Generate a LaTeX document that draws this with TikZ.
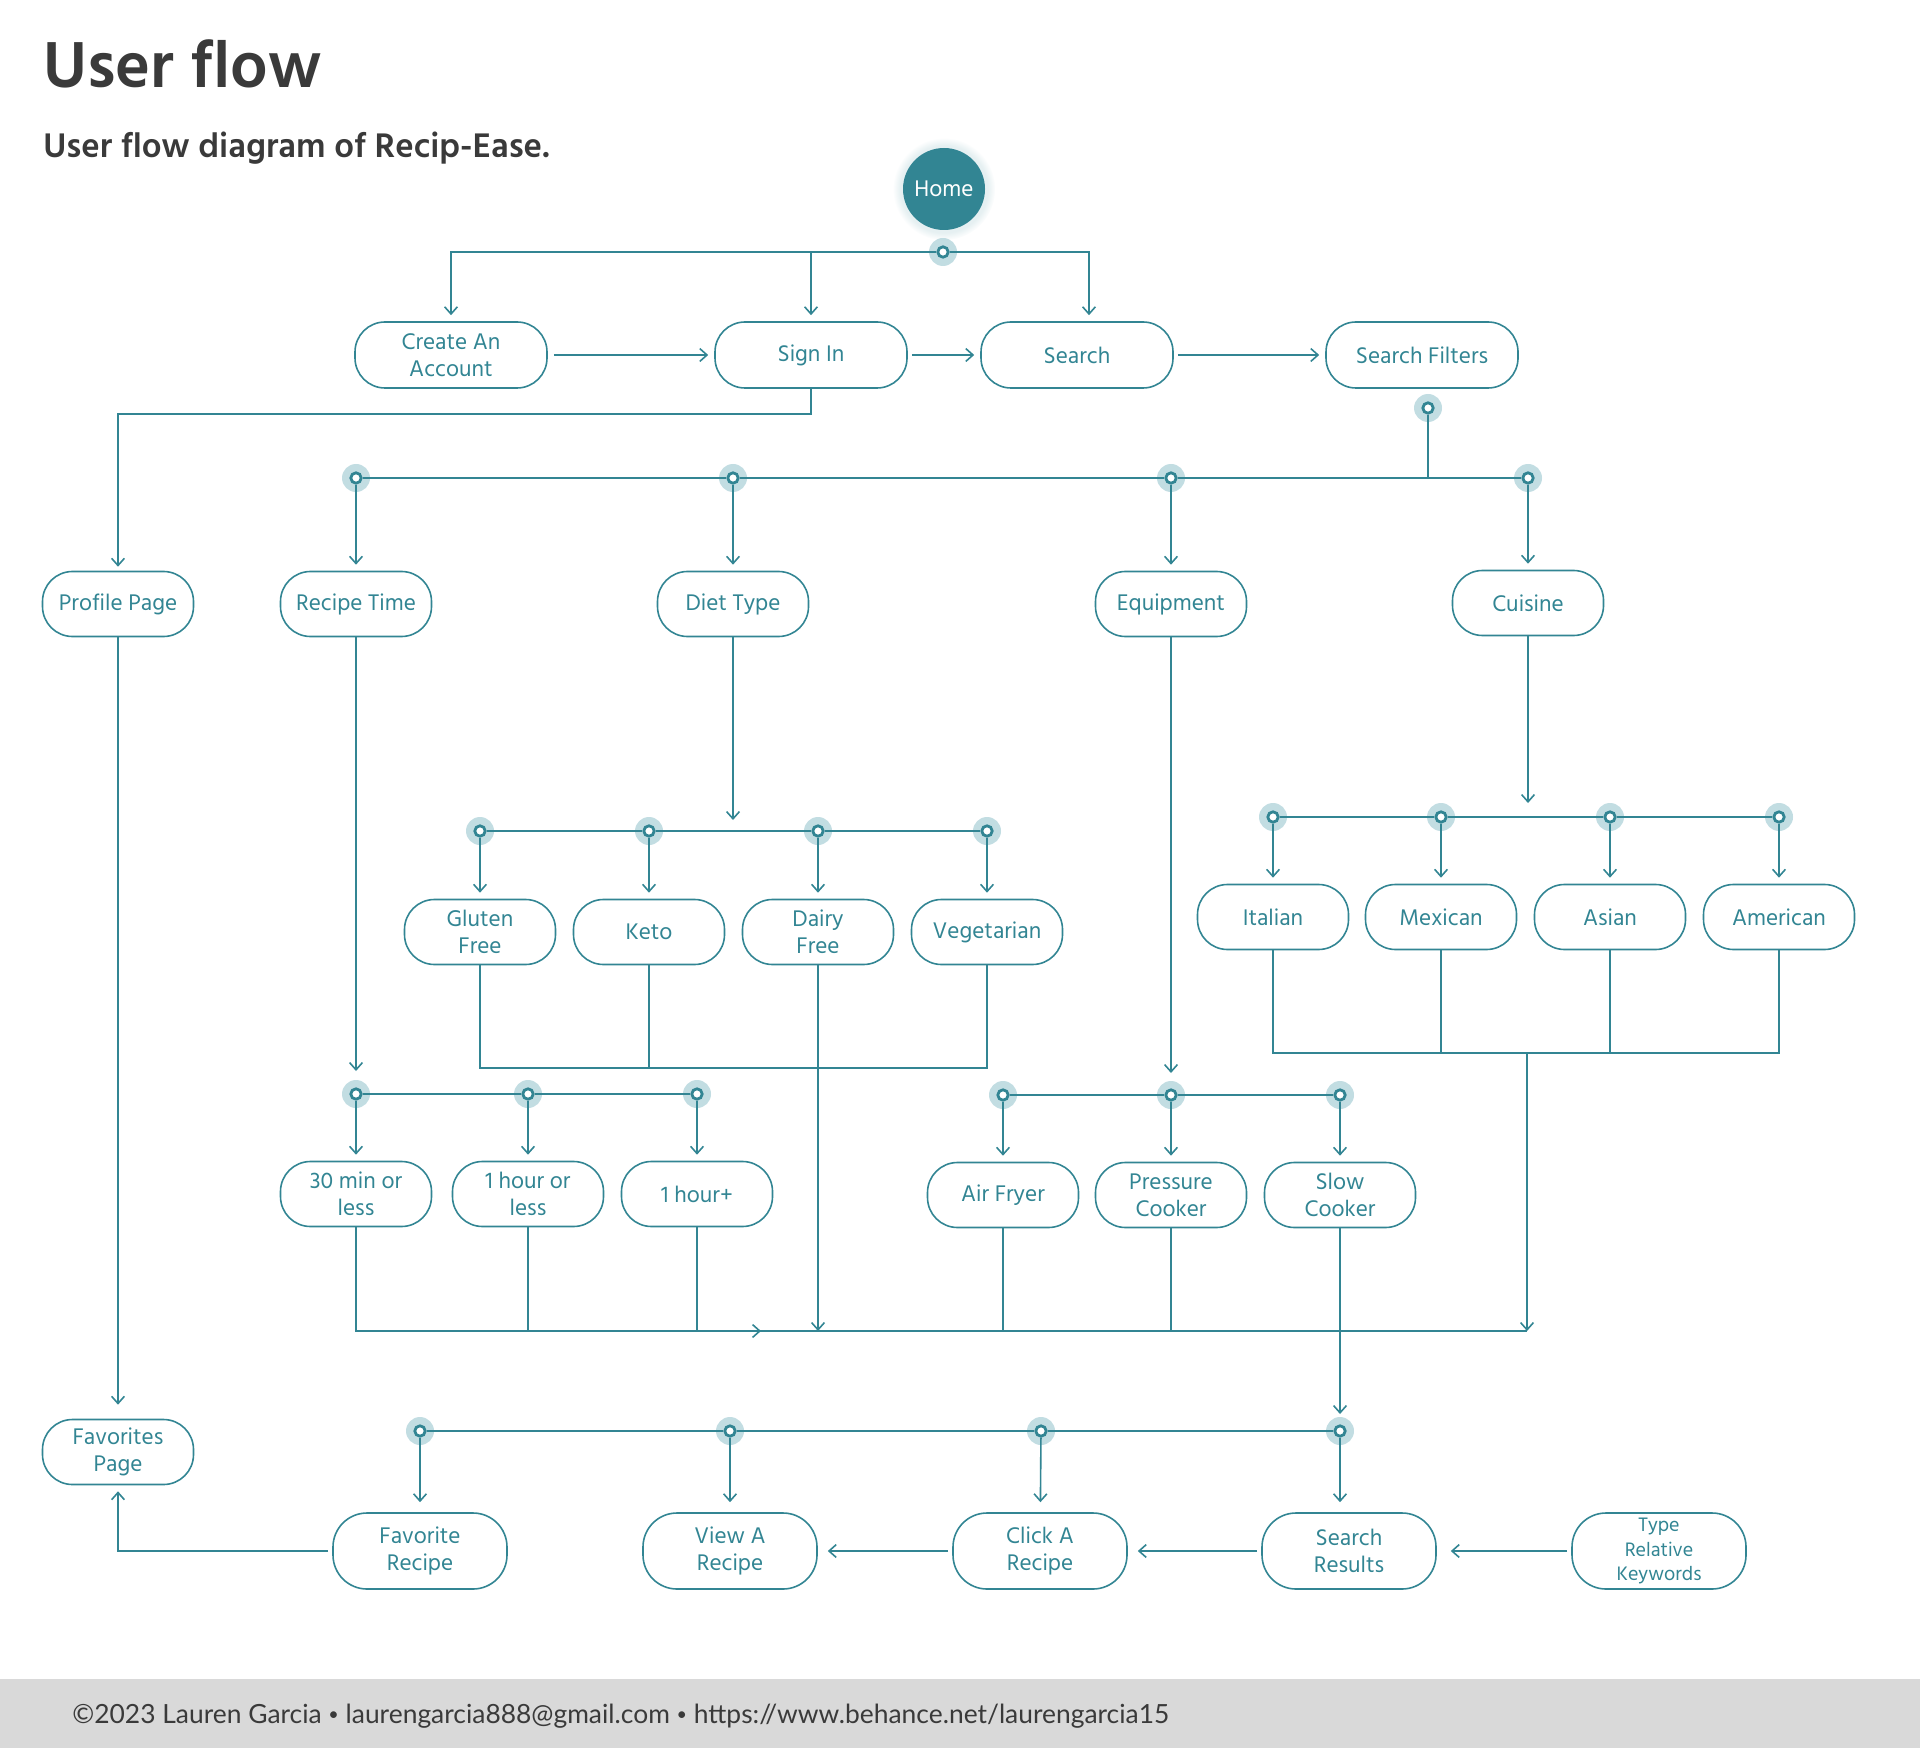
\documentclass[tikz,border=0pt]{standalone}
\usepackage{fontspec}
\setmainfont{Hind Madurai}
\newfontfamily\footfont{Lato}
\usetikzlibrary{
  arrows.meta, % for Straight Barb arrow tip
  backgrounds, % to put the halos behind the lines
  shadows, % for the glow round the home node
}
\definecolor{flowteal}{RGB}{50,133,147}
\definecolor{flowhalo}{RGB}{194,221,226}
\definecolor{inkgray}{RGB}{58,58,58}
\definecolor{footgray}{RGB}{217,217,217}
\newcommand{\footdot}{{\fontsize{9}{9}\selectfont\raisebox{0.12em}{•}}}
\tikzset{
  flowbox/.style={ % style for each screen of the flow
    rectangle,draw=flowteal,line width=0.8pt, % thin teal outline
    rounded corners=15pt, % pill shaped ends
    text=flowteal,align=center,
    font=\fontsize{11.6}{13.6}\selectfont,
    minimum width=75.5pt,minimum height=32.5pt,
    inner sep=1pt,
  },
  widebox/.style={ % the first row is a bit wider
    flowbox,minimum width=96pt,minimum height=33pt,
  },
  tallbox/.style={ % the last row is a bit taller
    flowbox,minimum width=87pt,minimum height=38pt,rounded corners=17pt,
  },
  hub/.style={ % small ring where a line splits
    circle,draw=flowteal,fill=white,line width=1.4pt,
    inner sep=0pt,minimum size=5.2pt,
  },
  wire/.style={ % plain connecting line
    draw=flowteal,line width=0.8pt,
  },
  conn/.style={ % style for the connections
    wire,-{Straight Barb[length=3.6pt,width=6.4pt]},
    shorten >=3pt,
  },
}

\begin{document}
\begin{tikzpicture}[x=0.5pt,y=-0.5pt]
	\useasboundingbox (0,0) rectangle (1920,1748);
	
	% headings
	\node[anchor=base west,inner sep=0pt,text=inkgray,font=\fontsize{33.3}{36}\selectfont\bfseries] (title) at (43,88) {User flow};
	\node[anchor=base west,inner sep=0pt,text=inkgray,font=\fontsize{17.5}{19}\selectfont\bfseries] (subtitle) at (43,158) {User flow diagram of Recip-Ease.};
	
	% footer
	\fill[footgray] (0,1679) rectangle (1920,1748);
	\node[anchor=base west,inner sep=0pt,text=inkgray,font=\footfont\fontsize{13.2}{14}\selectfont] (credit) at (72,1723) {©2023 Lauren Garcia \footdot{} laurengarcia888@gmail.com \footdot{} https://www.behance.net/laurengarcia15};
	
	% start
	\node[circle,fill=flowteal,minimum size=41pt,inner sep=0pt,text=white,font=\fontsize{11.6}{12}\selectfont,
	      circular glow={fill=flowteal!35,opacity=0.35}] (home) at (944,189) {Home};
	
	% first row
	\node[widebox] (create) at (451,355) {Create An\\Account};
	\node[widebox] (signin) at (811,355) {Sign In};
	\node[widebox] (search) at (1077,355) {Search};
	\node[widebox] (filters) at (1422,355) {Search Filters};
	
	% filter row
	\node[flowbox] (profile) at (118,604) {Profile Page};
	\node[flowbox] (rtime) at (356,604) {Recipe Time};
	\node[flowbox] (diet) at (733,604) {Diet Type};
	\node[flowbox] (equip) at (1171,604) {Equipment};
	\node[flowbox] (cuisine) at (1528,603) {Cuisine};
	
	% diet options
	\node[flowbox] (gluten) at (480,932) {Gluten\\Free};
	\node[flowbox] (keto) at (649,932) {Keto};
	\node[flowbox] (dairy) at (818,932) {Dairy\\Free};
	\node[flowbox] (veg) at (987,932) {Vegetarian};
	
	% cuisine options
	\node[flowbox] (italian) at (1273,917) {Italian};
	\node[flowbox] (mexican) at (1441,917) {Mexican};
	\node[flowbox] (asian) at (1610,917) {Asian};
	\node[flowbox] (american) at (1779,917) {American};
	
	% time and equipment options
	\node[flowbox] (t30) at (356,1194) {30 min or\\less};
	\node[flowbox] (t60) at (528,1194) {1 hour or\\less};
	\node[flowbox] (t61) at (697,1194) {1 hour+};
	\node[flowbox] (airfryer) at (1003,1195) {Air Fryer};
	\node[flowbox] (pressure) at (1171,1195) {Pressure\\Cooker};
	\node[flowbox] (slow) at (1340,1195) {Slow\\Cooker};
	
	% last row
	\node[flowbox] (favpage) at (118,1452) {Favorites\\Page};
	\node[tallbox] (favrecipe) at (420,1551) {Favorite\\Recipe};
	\node[tallbox] (viewrecipe) at (730,1551) {View A\\Recipe};
	\node[tallbox] (clickrecipe) at (1040,1551) {Click A\\Recipe};
	\node[tallbox] (results) at (1349,1551) {Search\\Results};
	\node[tallbox,font=\fontsize{10}{12.3}\selectfont] (keywords) at (1659,1551) {Type\\Relative\\Keywords};
	
	% split points
	\node[hub] (hj) at (943,252) {};
	\node[hub] (sfj) at (1428,408) {};
	\node[hub] (rtj) at (356,478) {};
	\node[hub] (dtj) at (733,478) {};
	\node[hub] (eqj) at (1171,478) {};
	\node[hub] (cuj) at (1528,478) {};
	\node[hub] (gfj) at (480,831) {};
	\node[hub] (ktj) at (649,831) {};
	\node[hub] (dfj) at (818,831) {};
	\node[hub] (vgj) at (987,831) {};
	\node[hub] (itj) at (1273,817) {};
	\node[hub] (mxj) at (1441,817) {};
	\node[hub] (asj) at (1610,817) {};
	\node[hub] (amj) at (1779,817) {};
	\node[hub] (t30j) at (356,1094) {};
	\node[hub] (t60j) at (528,1094) {};
	\node[hub] (t61j) at (697,1094) {};
	\node[hub] (afj) at (1003,1095) {};
	\node[hub] (pcj) at (1171,1095) {};
	\node[hub] (scj) at (1340,1095) {};
	\node[hub] (frj) at (420,1431) {};
	\node[hub] (vaj) at (730,1431) {};
	\node[hub] (caj) at (1041,1431) {};
	\node[hub] (srj) at (1340,1431) {};
	
	% free ends
	\coordinate (dietin) at (733,820);
	\coordinate (cuisin) at (1528,803);
	\coordinate (rtin) at (356,1071);
	\coordinate (eqin) at (1171,1073);
	\coordinate (dietjoin) at (987,1068);
	\coordinate (cujoin) at (1779,1053);
	\coordinate (cudrop) at (1527,1053);
	\coordinate (colL) at (356,1331);
	\coordinate (colmid) at (761,1331);
	\coordinate (colR) at (1527,1331);
	\coordinate (slowin) at (1340,1414);
	
	\begin{scope}[on background layer]
		\foreach \j in {hj,sfj,rtj,dtj,eqj,cuj,gfj,ktj,dfj,vgj,itj,mxj,asj,amj,t30j,t60j,t61j,afj,pcj,scj,frj,vaj,caj,srj}
			\fill[flowhalo] (\j) circle (7pt);
	\end{scope}
	
	% home splits
	\draw[conn] (hj) -| (create);
	\draw[conn] (hj) -| (signin);
	\draw[conn] (hj) -| ([xshift=6pt]search.north);
	\draw[conn,shorten <=3pt] (create) -- (signin);
	\draw[conn,shorten <=2pt] (signin) -- (search);
	\draw[conn,shorten <=2pt] (search) -- (filters);
	\draw[conn,shorten >=2pt] (signin.south) -- ++(0,25) -| (profile);
	
	% filters
	\draw[wire] (sfj) -- (sfj |- cuj);
	\draw[wire] (rtj) -- (dtj) -- (eqj) -- (cuj);
	\foreach \j/\n in {rtj/rtime,dtj/diet,eqj/equip,cuj/cuisine}
		\draw[conn] (\j) -- (\n);
	
	% diet
	\draw[conn,shorten >=0pt] (diet) -- (dietin);
	\draw[wire] (gfj) -- (ktj) -- (dfj) -- (vgj);
	\foreach \j/\n in {gfj/gluten,ktj/keto,dfj/dairy,vgj/veg}
		\draw[conn] (\j) -- (\n);
	\draw[wire] (gluten) |- (dietjoin) -- (veg);
	\draw[wire] (keto) -- (keto |- dietjoin);
	\draw[conn,shorten >=0pt] (dairy) -- (dairy |- colL);
	
	% cuisine
	\draw[conn,shorten >=0pt] (cuisine) -- (cuisin);
	\draw[wire] (itj) -- (mxj) -- (asj) -- (amj);
	\foreach \j/\n in {itj/italian,mxj/mexican,asj/asian,amj/american}
		\draw[conn] (\j) -- (\n);
	\draw[wire] (italian) |- (cujoin) -- (american);
	\draw[wire] (mexican) -- (mexican |- cujoin);
	\draw[wire] (asian) -- (asian |- cujoin);
	\draw[conn,shorten >=0pt] (cudrop) -- (colR);
	
	% recipe time
	\draw[conn,shorten >=0pt] (rtime) -- (rtin);
	\draw[wire] (t30j) -- (t60j) -- (t61j);
	\foreach \j/\n in {t30j/t30,t60j/t60,t61j/t61}
		\draw[conn] (\j) -- (\n);
	
	% equipment
	\draw[conn,shorten >=0pt] (equip) -- (eqin);
	\draw[wire] (afj) -- (pcj) -- (scj);
	\foreach \j/\n in {afj/airfryer,pcj/pressure,scj/slow}
		\draw[conn] (\j) -- (\n);
	
	% everything meets here
	\draw[wire] (t30) |- (colR);
	\draw[conn,shorten >=0pt] (colL) -- (colmid);
	\foreach \n in {t60,t61,airfryer,pressure}
		\draw[wire] (\n) -- (\n |- colL);
	\draw[conn,shorten >=0pt] (slow) -- (slowin);
	
	% results
	\draw[wire] (frj) -- (vaj) -- (caj) -- (srj);
	\foreach \j/\n in {frj/favrecipe,vaj/viewrecipe,caj/clickrecipe}
		\draw[conn,shorten >=5pt] (\j) -- (\n);
	\draw[conn,shorten >=5pt] (srj) -- (srj |- results.north);
	\draw[conn,shorten >=7pt,shorten <=2pt] (keywords) -- (results);
	\draw[conn,shorten >=5pt,shorten <=2pt] (results) -- (clickrecipe);
	\draw[conn,shorten >=5pt,shorten <=2pt] (clickrecipe) -- (viewrecipe);
	\draw[conn,shorten <=2pt] (favrecipe.west) -| (favpage);
	\draw[conn,shorten >=7pt] (profile) -- (favpage);
\end{tikzpicture}
\end{document}
